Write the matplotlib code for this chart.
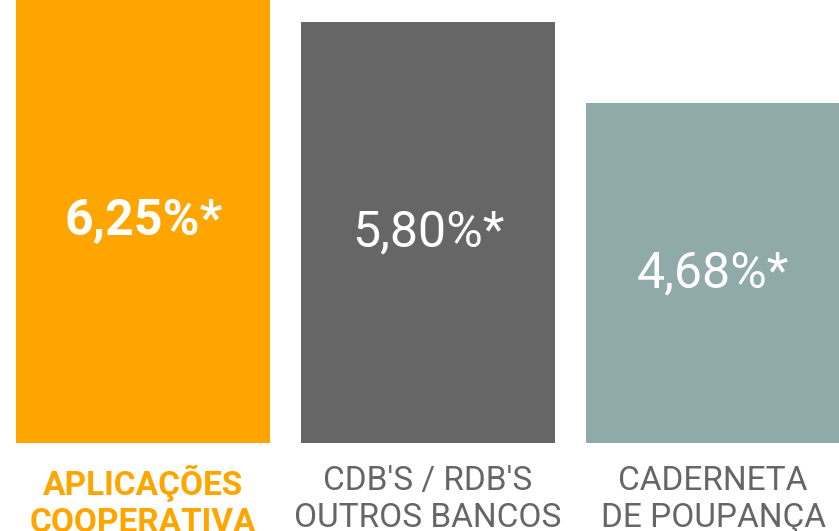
import matplotlib.pyplot as plt

categories = ['APLICAÇÕES\nCOOPERATIVA', "CDB'S / RDB'S\nOUTROS BANCOS", 'CADERNETA\nDE POUPANÇA']
values = [6.25, 5.80, 4.68]
value_labels = ['6,25%*', '5,80%*', '4,68%*']
colors = ['#FFA500', '#666666', '#90AAA9']
label_colors = ['#FFA500', '#666666', '#666666']

plt.rcParams['font.family'] = ['Roboto', 'DejaVu Sans']

fig = plt.figure(figsize=(8.39, 5.31), dpi=100)
ax = fig.add_axes([0, 0, 1, 1])

x = range(len(values))
ax.bar(x, values, width=0.891, color=colors)
ax.set_xlim(-0.502, 2.442)
ax.set_ylim(-1.212, 6.103)
ax.axis('off')

for i, v in enumerate(values):
    mid = min(v, 6.103) / 2
    ax.text(i, mid, value_labels[i], ha='center', va='center', color='white',
            fontsize=36, fontweight='bold' if i == 0 else 'normal')
    ax.text(i, -0.30, categories[i], ha='center', va='top', color=label_colors[i],
            fontsize=24, fontweight='bold' if i == 0 else 'normal',
            linespacing=1.2)

fig.savefig('out.png', dpi=100)
